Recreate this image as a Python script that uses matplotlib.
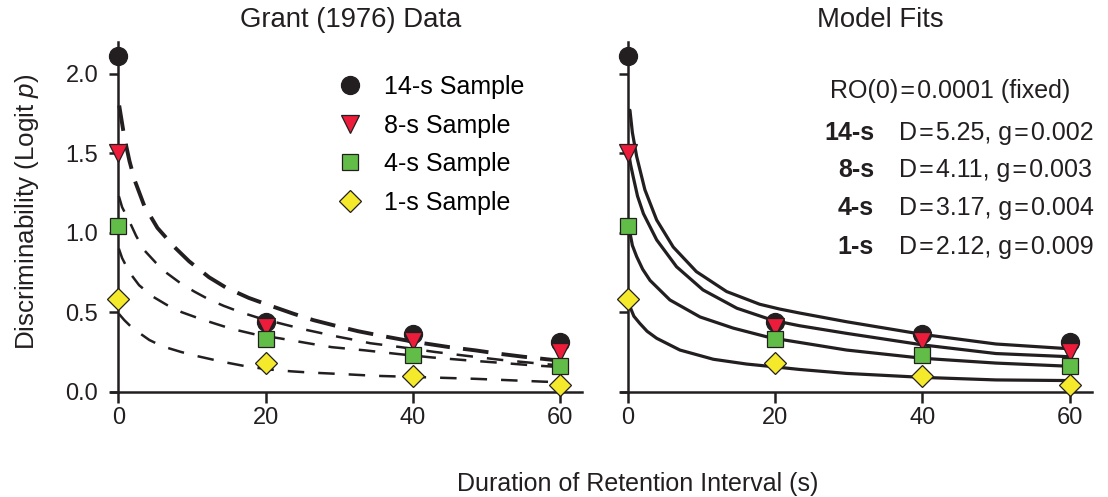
import matplotlib
matplotlib.use('Agg')
import matplotlib.pyplot as plt

plt.rcParams['font.family'] = ['Liberation Sans', 'DejaVu Sans']
plt.rcParams['mathtext.fontset'] = 'custom'
plt.rcParams['mathtext.it'] = 'Liberation Sans:italic'
plt.rcParams['mathtext.rm'] = 'Liberation Sans'

# ---------------- data ----------------
retention = [0, 20, 40, 60]
series_labels = ['14-s Sample', '8-s Sample', '4-s Sample', '1-s Sample']
short_labels = ['14-s', '8-s', '4-s', '1-s']

obs_14 = [2.11, 0.44, 0.365, 0.31]
obs_8 = [1.50, 0.41, 0.32, 0.25]
obs_4 = [1.04, 0.33, 0.228, 0.163]
obs_1 = [0.58, 0.18, 0.10, 0.04]

# dashed curves (left panel)
dash14_x = [0.1, 0.8, 1.5, 2.2, 3.5, 5.3, 7.6, 9.6, 12.3, 14.6, 17.7, 20.7, 23.8, 26.5, 29.9, 32.6, 35.9, 40, 45, 48.5, 51.5, 55, 60]
dash14_y = [1.80, 1.60, 1.45, 1.33, 1.17, 1.03, 0.91, 0.82, 0.72, 0.655, 0.59, 0.54, 0.49, 0.45, 0.41, 0.38, 0.35, 0.315, 0.28, 0.26, 0.24, 0.22, 0.195]
dash8_x = [0.05, 0.5, 1.5, 2.4, 3.5, 5.1, 6.6, 8.5, 10.3, 12.3, 14.3, 16.6, 19, 22.8, 25.4, 27.4, 29.9, 31.6, 34.2, 38.4, 43, 47.4, 52, 56.5, 60]
dash8_y = [1.23, 1.16, 1.07, 0.98, 0.89, 0.81, 0.745, 0.68, 0.63, 0.58, 0.54, 0.50, 0.465, 0.42, 0.39, 0.37, 0.345, 0.33, 0.305, 0.28, 0.25, 0.225, 0.20, 0.18, 0.165]
dash4_x = [0.05, 0.5, 1.5, 2.8, 4.6, 6.6, 8.6, 11, 13, 15.4, 18.6, 22, 24.5, 27, 29, 33.5, 38, 42.7, 47.2, 51.8, 56.5, 60]
dash4_y = [0.90, 0.84, 0.75, 0.67, 0.60, 0.545, 0.50, 0.46, 0.43, 0.395, 0.36, 0.335, 0.315, 0.295, 0.28, 0.26, 0.237, 0.215, 0.198, 0.182, 0.165, 0.155]
dash1_x = [0.05, 0.8, 1.9, 4.2, 6, 8.5, 10.3, 12.7, 14.7, 17.3, 20.4, 23.5, 26.2, 30.8, 34.8, 40, 44.3, 48.5, 53.2, 57.8, 60]
dash1_y = [0.49, 0.45, 0.40, 0.325, 0.285, 0.25, 0.228, 0.203, 0.183, 0.16, 0.14, 0.128, 0.12, 0.11, 0.10, 0.093, 0.087, 0.081, 0.072, 0.063, 0.06]

# model fit curves (right panel)
fit14_x = [0.27, 0.6, 1.18, 2.3, 3.9, 6.15, 9.3, 13.4, 17.9, 20.6, 23.3, 29.7, 34.9, 40.1, 50, 60]
fit14_y = [1.77, 1.63, 1.48, 1.27, 1.08, 0.91, 0.755, 0.63, 0.55, 0.52, 0.495, 0.44, 0.40, 0.36, 0.30, 0.27]
fit8_x = [0.1, 0.35, 0.72, 1.3, 2.1, 3.9, 6.6, 10.2, 14.8, 19.3, 20.6, 23.3, 29.7, 40.1, 50, 60]
fit8_y = [1.50, 1.43, 1.35, 1.23, 1.12, 0.955, 0.786, 0.64, 0.525, 0.455, 0.44, 0.415, 0.367, 0.294, 0.24, 0.22]
fit4_x = [0.1, 0.27, 0.6, 1.18, 2.0, 3.0, 5.7, 9.8, 14.3, 18.8, 20.6, 23.3, 29.7, 40.1, 50, 60]
fit4_y = [1.03, 1.0, 0.92, 0.85, 0.77, 0.70, 0.577, 0.47, 0.40, 0.346, 0.33, 0.31, 0.262, 0.21, 0.18, 0.16]
fit1_x = [0.1, 0.27, 0.8, 1.6, 2.6, 3.9, 7.06, 11.6, 16.1, 20.2, 23.3, 29.7, 40.1, 50, 60]
fit1_y = [0.58, 0.535, 0.475, 0.43, 0.38, 0.336, 0.262, 0.204, 0.174, 0.155, 0.14, 0.115, 0.09, 0.074, 0.07]

fit_D = [5.25, 4.11, 3.17, 2.12]
fit_g = ['0.002', '0.003', '0.004', '0.009']
ro0_value = '0.0001'

# ---------------- style ----------------
INK = '#231f20'
HS = '\u200a'  # hair space around "="
marker_shapes = ['o', 'v', 's', 'D']
marker_colors = [INK, '#ec1c3a', '#62bd48', '#f4e92a']
marker_sizes = [13, 13.2, 11.5, 11]

observations = [obs_14, obs_8, obs_4, obs_1]
dashed = [(dash14_x, dash14_y), (dash8_x, dash8_y), (dash4_x, dash4_y), (dash1_x, dash1_y)]
fits = [(fit14_x, fit14_y), (fit8_x, fit8_y), (fit4_x, fit4_y), (fit1_x, fit1_y)]

W, H = 1108, 497
fig = plt.figure(figsize=(W / 100, H / 100), dpi=100)

ax_h = 349.8 / H
ax_b = (H - 391.7) / H
ax_w = 471.0 / W
ax1 = fig.add_axes([111.1 / W, ax_b, ax_w, ax_h])
ax2 = fig.add_axes([620.6 / W, ax_b, ax_w, ax_h])


def style_axes(ax, ylabels):
    ax.set_xlim(-1, 63)
    ax.set_ylim(0, 2.2)
    for s in ['top', 'right']:
        ax.spines[s].set_visible(False)
    ax.spines['left'].set_position(('data', 0))
    for s in ['left', 'bottom']:
        ax.spines[s].set_linewidth(1.8)
        ax.spines[s].set_color(INK)
    ax.set_xticks(retention)
    ax.set_xticklabels([str(v) for v in retention])
    ax.set_yticks([0, 0.5, 1.0, 1.5, 2.0])
    if ylabels:
        ax.set_yticklabels(['0.0', '0.5', '1.0', '1.5', '2.0'])
    else:
        ax.set_yticklabels([])
    ax.tick_params(axis='x', direction='out', length=8, width=1.8, color=INK,
                   labelsize=17, pad=3, labelcolor=INK)
    ax.tick_params(axis='y', direction='out', length=6.5, width=1.8, color=INK,
                   labelsize=17, pad=8, labelcolor=INK)


style_axes(ax1, True)
style_axes(ax2, False)

# left: dashed curves
for i, (cx, cy) in enumerate(dashed):
    if i == 0:
        ln, = ax1.plot(cx, cy, color=INK, lw=2.8, zorder=3)
        ln.set_dashes((6.6, 3.4))
    else:
        ln, = ax1.plot(cx, cy, color=INK, lw=1.8, zorder=3)
        ln.set_dashes((6.6, 5.6))
    ln.set_dash_capstyle('butt')

# right: fit curves
for cx, cy in fits:
    ax2.plot(cx, cy, color=INK, lw=2.3, zorder=3, solid_capstyle='round',
             solid_joinstyle='round')

handles = []
for ax in (ax1, ax2):
    for i, obs in enumerate(observations):
        h, = ax.plot(retention, obs, linestyle='none', marker=marker_shapes[i],
                     markersize=marker_sizes[i], markerfacecolor=marker_colors[i],
                     markeredgecolor=INK, markeredgewidth=0.9, zorder=5 + i,
                     clip_on=False, label=series_labels[i])
        if ax is ax1:
            handles.append(h)

ax1.legend(handles=handles, labels=series_labels, loc='upper left',
           bbox_to_anchor=(0.48, 0.905), frameon=False, fontsize=18,
           handlelength=1.0, handletextpad=0.86, labelspacing=0.58,
           borderpad=0, borderaxespad=0, numpoints=1)

# titles and labels
fig.text(351 / W, 1 - 20 / H, 'Grant (1976) Data', ha='center', va='center',
         fontsize=19.8, color=INK)
fig.text(880 / W, 1 - 20 / H, 'Model Fits', ha='center', va='center',
         fontsize=19.8, color=INK)
fig.text(638 / W, 1 - 484 / H, 'Duration of Retention Interval (s)', ha='center',
         va='center', fontsize=18, color=INK)
fig.text(27 / W, 1 - 212 / H, r'Discriminability (Logit $\mathit{p}$)', ha='center',
         va='center', rotation=90, fontsize=18.7, color=INK)

# model parameter annotations
fig.text(830 / W, 1 - 91 / H, f'RO(0){HS}={HS}{ro0_value} (fixed)', ha='left',
         va='center', fontsize=18, color=INK)
row_y = [133, 170, 208, 247]
for i in range(4):
    fig.text(874 / W, 1 - row_y[i] / H, short_labels[i], ha='right', va='center',
             fontsize=18, fontweight='bold', color=INK)
    fig.text(899 / W, 1 - row_y[i] / H,
             f'D{HS}={HS}{fit_D[i]:.2f}, g{HS}={HS}{fit_g[i]}',
             ha='left', va='center', fontsize=18, color=INK)

fig.savefig('out.png', dpi=100)
